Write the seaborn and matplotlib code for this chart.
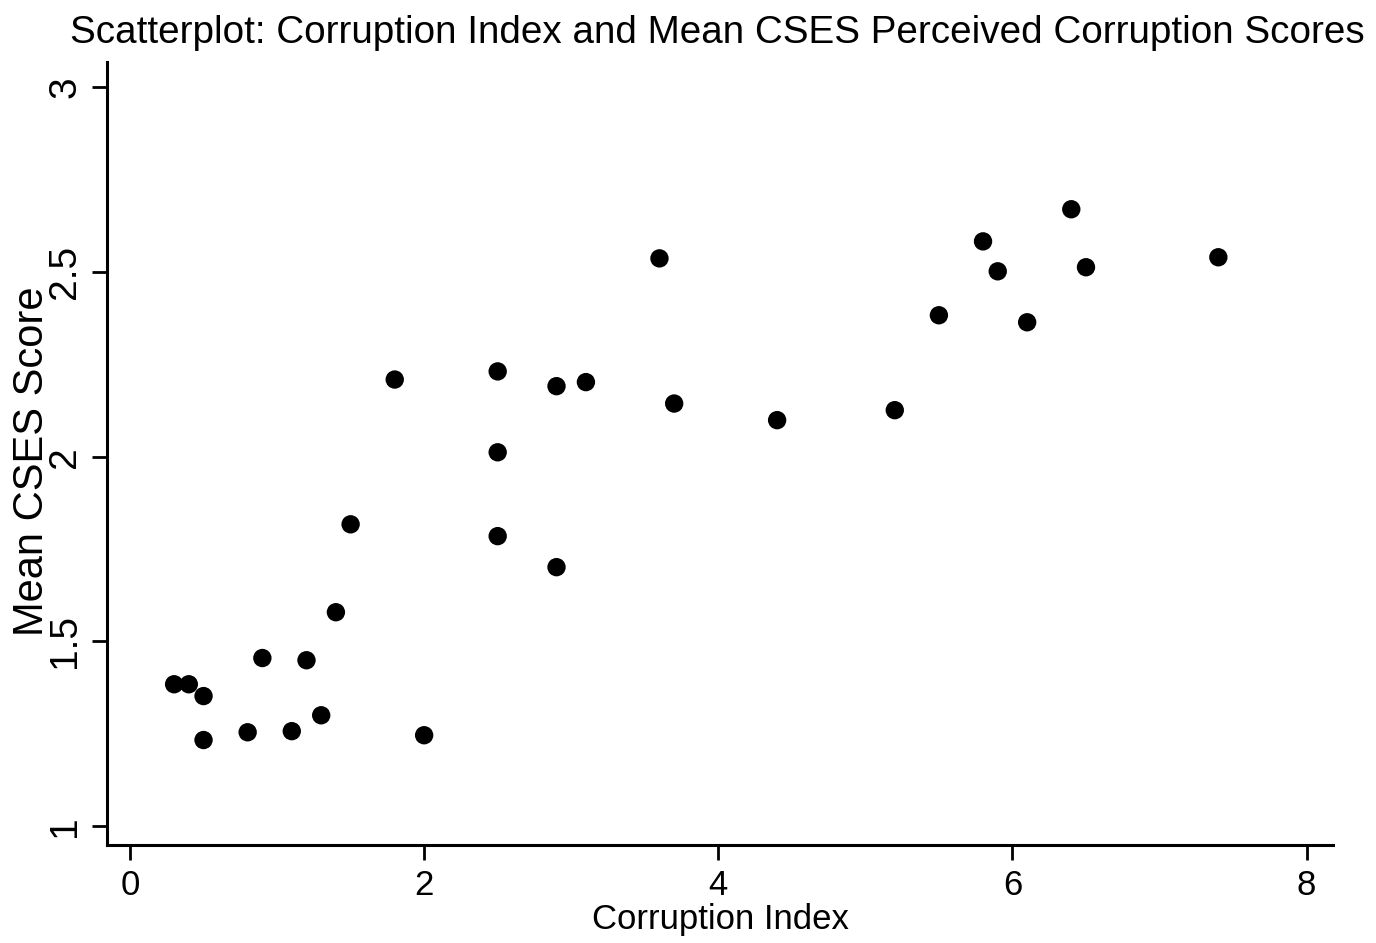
import numpy as np
import pandas as pd
import matplotlib
matplotlib.use("Agg")
import matplotlib.pyplot as plt
import seaborn as sns

# corruption index (x) and mean CSES perceived corruption score (y)
corruption_index = [0.3, 0.4, 0.5, 0.5, 0.8, 0.9, 1.1, 1.2, 1.3, 1.4,
                    1.5, 1.8, 2.0, 2.5, 2.5, 2.5, 2.9, 2.9, 3.1, 3.6,
                    3.7, 4.4, 5.2, 5.5, 5.8, 5.9, 6.1, 6.4, 6.5, 7.4]
mean_cses = [1.384, 1.384, 1.352, 1.233, 1.254, 1.455, 1.257, 1.449, 1.300, 1.579,
             1.817, 2.209, 1.246, 2.231, 2.012, 1.785, 2.191, 1.701, 2.202, 2.537,
             2.144, 2.099, 2.126, 2.383, 2.583, 2.502, 2.364, 2.670, 2.513, 2.540]
x_ticks = [0, 2, 4, 6, 8]
y_ticks = [1, 1.5, 2, 2.5, 3]
y_tick_labels = ["1", "1.5", "2", "2.5", "3"]

df = pd.DataFrame({"ci": corruption_index, "cses": mean_cses})

sns.set_style("ticks")
plt.rcParams["font.family"] = ["Liberation Sans", "DejaVu Sans"]
plt.rcParams["text.color"] = "black"
plt.rcParams["axes.labelcolor"] = "black"

fig = plt.figure(figsize=(13.76, 9.43), dpi=100)
ax = fig.add_axes([0.0778, 0.104, 0.891, 0.830])

sns.scatterplot(data=df, x="ci", y="cses", ax=ax, color="black",
                s=175, edgecolor="none", linewidth=0)

ax.set_xlim(-0.156, 8.18)
ax.set_ylim(0.949, 3.068)
ax.set_xticks(x_ticks)
ax.set_yticks(y_ticks)
ax.set_yticklabels(y_tick_labels, rotation=90, va="center")
ax.tick_params(axis="both", direction="out", length=11, width=2,
               color="black", labelcolor="black")
ax.tick_params(axis="x", labelsize=25, pad=6)
ax.tick_params(axis="y", labelsize=28, pad=6)

sns.despine(ax=ax)
for side in ["left", "bottom"]:
    ax.spines[side].set_linewidth(2.2)
    ax.spines[side].set_color("black")

ax.set_xlabel("Corruption Index", fontsize=25)
ax.xaxis.set_label_coords(0.5, -0.074)
ax.set_ylabel("Mean CSES Score", fontsize=30)
ax.yaxis.set_label_coords(-0.045, 0.49)

fig.text(0.521, 0.965, "Scatterplot: Corruption Index and Mean CSES Perceived Corruption Scores",
         ha="center", va="center", fontsize=27.8)

fig.savefig("out.png", dpi=100)
